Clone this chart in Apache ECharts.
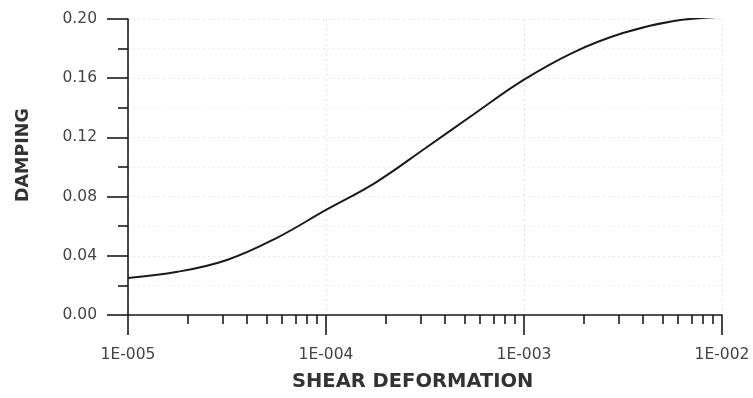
<!DOCTYPE html>
<html>
<head>
<meta charset="utf-8">
<script src="https://cdn.jsdelivr.net/npm/echarts@6/dist/echarts.min.js"></script>
<style>
html,body{margin:0;padding:0;background:#fff;}
#c{width:753px;height:398px;}
</style>
</head>
<body>
<div id="c"></div>
<script>
// Data
var strain = [1e-5, 1.78e-5, 3.16e-5, 5.62e-5, 1e-4, 1.78e-4, 3.16e-4, 5.62e-4, 1e-3, 1.78e-3, 3.16e-3, 5.62e-3, 1e-2];
var damping = [0.025, 0.0292, 0.0372, 0.052, 0.071, 0.0895, 0.1125, 0.136, 0.159, 0.1775, 0.1905, 0.1985, 0.2015];
var xMajorTicks = [1e-5, 1e-4, 1e-3, 1e-2];
var xTickLabels = ['1E-005', '1E-004', '1E-003', '1E-002'];
var xMinorTicks = [2e-5,3e-5,4e-5,5e-5,6e-5,7e-5,8e-5,9e-5,
                   2e-4,3e-4,4e-4,5e-4,6e-4,7e-4,8e-4,9e-4,
                   2e-3,3e-3,4e-3,5e-3,6e-3,7e-3,8e-3,9e-3];
var xTitle = 'SHEAR DEFORMATION';
var yTitle = 'DAMPING';

var pts = strain.map(function (s, i) { return [s, damping[i]]; });
var chart = echarts.init(document.getElementById('c'), null, {renderer: 'canvas'});
var axisCol = '#1a1a1a';
var font = 'DejaVu Sans';

chart.setOption({
  animation: false,
  backgroundColor: '#ffffff',
  grid: {left: 128, right: 31, top: 19, bottom: 83, containLabel: false},
  xAxis: [{
    type: 'log', logBase: 10, min: 1e-5, max: 1e-2,
    position: 'bottom',
    axisLine: {show: true, lineStyle: {color: axisCol, width: 1.6}},
    axisTick: {show: true, inside: false, length: 20, customValues: xMajorTicks, lineStyle: {color: axisCol, width: 1.6}},
    minorTick: {show: false},
    axisLabel: {
      show: true, customValues: xMajorTicks, margin: 32,
      fontFamily: font, fontSize: 15.5, color: '#444',
      formatter: function (v) {
        for (var i = 0; i < xMajorTicks.length; i++) {
          if (Math.abs(Math.log10(v) - Math.log10(xMajorTicks[i])) < 1e-6) return xTickLabels[i];
        }
        return '';
      }
    },
    splitLine: {show: true, lineStyle: {color: '#e2e2e2', type: [2, 3], width: 1}}
  }, {
    type: 'log', logBase: 10, min: 1e-5, max: 1e-2,
    position: 'bottom', offset: 0,
    axisLine: {show: false},
    axisTick: {show: true, inside: false, length: 9, customValues: xMinorTicks, lineStyle: {color: axisCol, width: 1.6}},
    axisLabel: {show: false},
    splitLine: {show: false}
  }],
  yAxis: {
    type: 'value', min: 0, max: 0.20, interval: 0.04,
    axisLine: {show: true, lineStyle: {color: axisCol, width: 1.6}},
    axisTick: {show: true, inside: false, length: 21, lineStyle: {color: axisCol, width: 1.6}},
    minorTick: {show: true, splitNumber: 2, length: 10, lineStyle: {color: axisCol, width: 1.6}},
    axisLabel: {
      margin: 31, fontFamily: font, fontSize: 15.5, color: '#444',
      formatter: function (v) { return v.toFixed(2); }
    },
    splitLine: {show: true, lineStyle: {color: '#e6e6e6', type: [2, 3], width: 1}},
    minorSplitLine: {show: true, lineStyle: {color: '#ececec', type: [2, 3], width: 1}}
  },
  graphic: [{
    type: 'text', left: 414 - 122, top: 372,
    style: {text: xTitle, fontFamily: font, fontWeight: 'bold', fontSize: 19.5, fill: '#333'}
  }, {
    type: 'text', x: 14, y: 202, rotation: Math.PI / 2,
    style: {text: yTitle, fontFamily: font, fontWeight: 'bold', fontSize: 17.5, fill: '#333', textAlign: 'left', textVerticalAlign: 'top'}
  }],
  series: [{
    type: 'line', xAxisIndex: 0, data: pts, smooth: 0.4, showSymbol: false,
    lineStyle: {color: '#1a1a1a', width: 2}
  }]
});
</script>
</body>
</html>
